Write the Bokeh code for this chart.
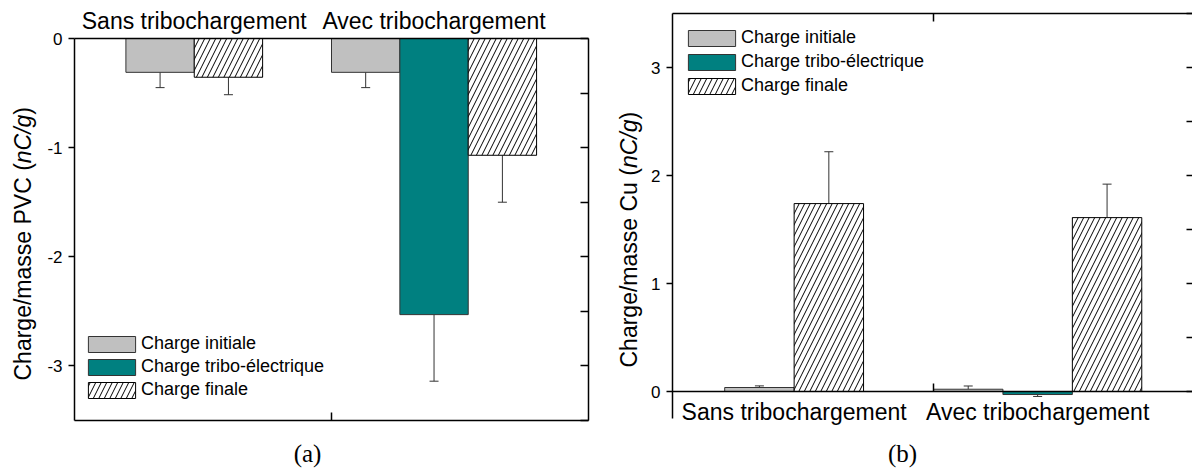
import numpy as np
from bokeh.plotting import figure
from bokeh.layouts import row
from bokeh.models import (ColumnDataSource, Range1d, LinearAxis, FixedTicker, Whisker,
                          TeeHead, Legend, LegendItem, Label)
from bokeh.embed import file_html
from bokeh.resources import INLINE

# ---------------- data ----------------
groups = ["Sans tribochargement", "Avec tribochargement"]
series = ["Charge initiale", "Charge tribo-électrique", "Charge finale"]

# (a) PVC, nC/g  (None = bar absent)
pvc_initiale = [-0.31, -0.31]
pvc_initiale_err = [0.14, 0.14]
pvc_tribo = [None, -2.53]
pvc_tribo_err = [None, 0.61]
pvc_finale = [-0.355, -1.07]
pvc_finale_err = [0.16, 0.43]
pvc_yticks = [-3, -2, -1, 0]
pvc_minor = [-3.5, -3.0, -2.5, -2.0, -1.5, -1.0, -0.5, 0.0]

# (b) Cu, nC/g
cu_initiale = [0.037, 0.021]
cu_initiale_err = [0.015, 0.03]
cu_tribo = [None, -0.028]
cu_tribo_err = [None, 0.018]
cu_finale = [1.74, 1.61]
cu_finale_err = [0.48, 0.31]
cu_yticks = [0, 1, 2, 3]
cu_minor = [0.0, 0.5, 1.0, 1.5, 2.0, 2.5, 3.0, 3.5]

# ---------------- styles / layout ----------------
FONT = "Liberation Sans"
SERIF = "Liberation Serif"
GROUP_START = [0.2, 1.0]
BAR_W = 0.266
FILLS = ["#c0c0c0", "#008080", "white"]
HATCH = [None, None, "/"]
EDGE = "#333333"
H = 472


def em_width(txt):
    w = {'C': .722, 'h': .556, 'a': .556, 'r': .333, 'g': .556, 'e': .556, '/': .278,
         'm': .833, 's': .5, ' ': .278, 'P': .667, 'V': .667, 'u': .556, '(': .333,
         ')': .333, 'n': .556}
    return sum(w.get(c, .556) for c in txt)


def ax(ticks, **kw):
    a = LinearAxis(ticker=FixedTicker(ticks=ticks, minor_ticks=[]),
                   axis_line_width=1.5, axis_line_color="black",
                   major_tick_line_width=1.5, major_tick_line_color="black",
                   minor_tick_line_color=None,
                   major_label_text_font=FONT, major_label_text_color="black")
    for k, v in kw.items():
        setattr(a, k, v)
    return a


def build(vals, errs, yr, width, px):
    # px = (canvas px of x=0, px per x unit, canvas px of top y value, px per y unit)
    x0px, xs_px, ytop_px, ys_px = px
    xr = Range1d(-x0px / xs_px, (width - x0px) / xs_px)
    yr_ = Range1d(yr[1] - (H - ytop_px) / ys_px, yr[1] + ytop_px / ys_px)
    p = figure(width=width, height=H, x_range=xr, y_range=yr_,
               output_backend="svg", toolbar_location=None,
               x_axis_location=None, y_axis_location=None, min_border=0)
    p.outline_line_color = None
    p.xgrid.visible = False
    p.ygrid.visible = False
    p.background_fill_color = "white"
    p.border_fill_color = "white"

    present = [[vals[s][g] is not None for s in range(3)] for g in range(2)]
    centers = [GROUP_START[g] + sum(present[g]) / 2 * BAR_W for g in range(2)]

    items = []
    for s in range(3):
        xs, tops, es = [], [], []
        for g in range(2):
            v = vals[s][g]
            if v is None:
                continue
            slot = sum(present[g][:s])
            xs.append(GROUP_START[g] + (slot + 0.5) * BAR_W)
            tops.append(v)
            es.append(errs[s][g])
        src = ColumnDataSource(dict(x=xs, top=tops))
        kw = dict(fill_color=FILLS[s], line_color=EDGE, line_width=1)
        if HATCH[s]:
            kw.update(hatch_pattern=HATCH[s], hatch_color="black", hatch_weight=1,
                      hatch_scale=11, line_color="black")
        r = p.vbar(x="x", top="top", bottom=0, width=BAR_W, source=src, **kw)
        items.append(LegendItem(label=series[s], renderers=[r]))
        pos = dict(base=[], lower=[], upper=[])
        neg = dict(base=[], lower=[], upper=[])
        for x, v, e in zip(xs, tops, es):
            if v >= 0:
                pos["base"].append(x); pos["lower"].append(v); pos["upper"].append(v + e)
            else:
                neg["base"].append(x); neg["lower"].append(v - e); neg["upper"].append(v)
        if pos["base"]:
            p.add_layout(Whisker(source=ColumnDataSource(pos), base="base", lower="lower",
                                 upper="upper", dimension="height", line_color=EDGE,
                                 line_width=1, lower_head=None,
                                 upper_head=TeeHead(size=9, line_color=EDGE, line_width=1)))
        if neg["base"]:
            p.add_layout(Whisker(source=ColumnDataSource(neg), base="base", lower="lower",
                                 upper="upper", dimension="height", line_color=EDGE,
                                 line_width=1, upper_head=None,
                                 lower_head=TeeHead(size=9, line_color=EDGE, line_width=1)))
    return p, centers, items


def finish(p, centers, items, yr, yticks, minor, boxed, title_main, title_pos,
           letter, letter_pos, legend_loc, legend_spacing):
    nolab = dict(major_label_text_color=None)
    ylab = {t: str(t) for t in yticks}
    left = ax(yticks, major_tick_out=6, major_tick_in=0, major_label_standoff=6,
              major_label_text_font_size="17px", major_label_overrides=ylab)
    left.fixed_location = 0
    left.bounds = (yr[0], yr[1])
    p.add_layout(left, "left")
    right = ax(minor, major_tick_in=8, major_tick_out=0, **nolab)
    right.fixed_location = 2
    right.bounds = (yr[0], yr[1])
    if not boxed:
        right.axis_line_color = None
    p.add_layout(right, "right")

    cat = ax(centers, major_tick_line_color=None, major_tick_in=0, major_tick_out=0,
             major_label_text_font_size="23px",
             major_label_overrides={c: g for c, g in zip(centers, groups)})
    cat.bounds = (0, 2)
    top = ax([1.0], major_tick_in=8, major_tick_out=0, **nolab)
    top.bounds = (0, 2)
    if boxed:
        cat.fixed_location = yr[1]
        cat.major_label_standoff = 5
        p.add_layout(cat, "above")
        bot = ax([1.0], major_tick_in=8, major_tick_out=0, **nolab)
        bot.fixed_location = yr[0]
        bot.bounds = (0, 2)
        p.add_layout(bot, "below")
    else:
        cat.fixed_location = 0
        cat.major_label_standoff = 7
        p.add_layout(cat, "below")
        mid = ax([1.0], axis_line_color=None, major_tick_in=8, major_tick_out=0, **nolab)
        mid.fixed_location = 0
        p.add_layout(mid, "below")
        top.fixed_location = yr[1]
        p.add_layout(top, "above")

    tx, ty = title_pos
    pieces = [(title_main + " (", "normal"), ("nC/g", "italic"), (")", "normal")]
    off = 0.0
    for txt, style in pieces:
        p.add_layout(Label(x=tx, y=ty + off, x_units="screen", y_units="screen", text=txt,
                           angle=np.pi / 2, text_align="left", text_baseline="middle",
                           text_font=FONT, text_font_style=style, text_font_size="23px",
                           text_color="black"))
        off += em_width(txt) * 23

    p.add_layout(Label(x=letter_pos[0], y=letter_pos[1], x_units="screen", y_units="screen",
                       text=letter, text_align="center", text_baseline="middle",
                       text_font=SERIF, text_font_size="25px", text_color="black"))

    leg = Legend(items=items, location=legend_loc, glyph_width=59, glyph_height=20,
                 label_text_font=FONT, label_text_font_size="18px", label_standoff=0,
                 label_text_color="black",
                 label_height=20, spacing=legend_spacing, padding=0, margin=0,
                 border_line_color=None, background_fill_alpha=0)
    p.add_layout(leg, "center")
    return p


pa, ca, ia = build([pvc_initiale, pvc_tribo, pvc_finale],
                   [pvc_initiale_err, pvc_tribo_err, pvc_finale_err],
                   (-3.5, 0), 600, (74, 257, 38, 109.14))
pa = finish(pa, ca, ia, (-3.5, 0), pvc_yticks, pvc_minor, True, "Charge/masse PVC",
            (22, 92), "(a)", (307, 19), (82, 72), 2)

pb, cb, ib = build([cu_initiale, cu_tribo, cu_finale],
                   [cu_initiale_err, cu_tribo_err, cu_finale_err],
                   (-0.25, 3.5), 592, (72, 261, 13, 108))
pb = finish(pb, cb, ib, (-0.25, 3.5), cu_yticks, cu_minor, False, "Charge/masse Cu",
            (28, 105), "(b)", (302, 19), (82, 376), 3)

layout = row(pa, pb)
open("out.html", "w").write(file_html(layout, INLINE))
